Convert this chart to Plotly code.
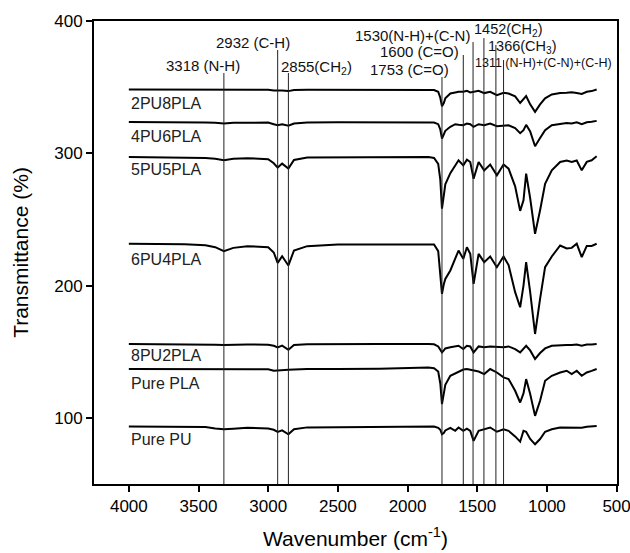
import plotly.graph_objects as go

# Wavenumber grid (cm-1) shared by all spectra
wavenumber = [4000, 3600, 3450, 3380, 3318, 3250, 3150, 3000, 2960, 2932, 2900, 2855, 2815,
              2720, 2500, 2200, 1850, 1810, 1780, 1765, 1753, 1740, 1729, 1693, 1658, 1634,
              1600, 1574, 1550, 1526, 1490, 1450, 1407, 1359, 1311, 1275, 1228, 1192, 1168,
              1149, 1120, 1085, 1049, 1013, 965, 905, 858, 822, 786, 750, 714, 679, 643]

t_2pu8pla = [348.3, 348.3, 348.2, 348.0, 347.8, 348.0, 348.0, 348.0, 347.5, 347.2, 347.4, 347.0, 347.8,
             348.0, 348.0, 348.0, 348.0, 347.8, 346.5, 342.0, 335.5, 338.0, 341.5, 345.2, 346.0, 346.5,
             346.5, 347.2, 346.0, 346.5, 347.2, 345.5, 346.5, 343.9, 345.8, 345.2, 343.0, 338.0, 341.0,
             343.2, 337.0, 331.3, 337.0, 341.5, 344.5, 345.5, 345.7, 346.2, 345.5, 344.8, 346.5, 347.0, 348.2]

t_4pu6pla = [323.7, 323.7, 323.2, 323.0, 322.5, 323.0, 323.2, 323.2, 322.0, 321.2, 322.0, 320.8, 322.5,
             323.3, 323.5, 323.5, 323.5, 323.2, 322.0, 318.0, 311.1, 314.0, 317.0, 320.0, 322.0, 321.5,
             321.2, 322.5, 322.0, 320.0, 322.0, 321.2, 322.5, 320.5, 321.2, 321.2, 319.0, 315.2, 317.5,
             321.5, 316.5, 305.3, 311.5, 317.4, 321.2, 322.0, 322.8, 322.5, 323.5, 322.0, 323.5, 323.8, 324.5]

t_5pu5pla = [297.2, 297.0, 296.5, 295.8, 294.7, 295.8, 296.3, 295.5, 292.5, 289.2, 292.2, 288.4, 295.0,
             296.8, 297.0, 297.2, 297.2, 296.5, 292.0, 280.0, 258.1, 268.0, 276.5, 285.0, 291.0, 294.7,
             290.9, 295.2, 293.4, 280.8, 293.4, 287.1, 291.5, 283.3, 291.5, 288.4, 275.0, 256.5, 264.4,
             284.6, 266.0, 239.1, 257.0, 277.0, 287.1, 293.4, 294.5, 293.4, 294.5, 287.1, 293.5, 294.7, 297.7]

t_6pu4pla = [231.6, 231.3, 230.5, 229.0, 226.0, 228.5, 229.8, 229.0, 225.0, 217.2, 222.2, 215.2, 226.5,
             229.8, 231.0, 231.0, 231.5, 231.0, 226.0, 210.0, 193.7, 201.0, 205.0, 211.4, 220.0, 226.5,
             220.2, 229.0, 224.0, 201.3, 224.0, 217.7, 222.0, 213.9, 222.0, 215.5, 195.0, 183.6, 200.0,
             217.7, 195.0, 163.4, 190.0, 213.9, 222.0, 230.3, 228.0, 228.5, 231.6, 221.5, 230.0, 230.0, 231.6]

t_8pu2pla = [155.8, 155.8, 155.6, 155.3, 155.0, 155.3, 155.5, 155.3, 154.5, 153.3, 154.6, 151.5, 155.0,
             155.6, 155.8, 155.8, 155.8, 155.6, 154.0, 151.5, 149.5, 151.0, 152.5, 153.3, 154.0, 154.5,
             152.0, 154.5, 154.0, 149.5, 154.0, 153.3, 154.0, 153.5, 153.3, 154.0, 152.0, 149.5, 152.0,
             154.5, 151.0, 144.5, 149.0, 152.5, 154.5, 155.0, 155.0, 155.0, 155.5, 154.5, 155.5, 155.5, 155.8]

t_pure_pla = [136.9, 136.9, 136.8, 136.6, 136.6, 136.8, 136.8, 136.7, 135.7, 136.0, 136.2, 136.3, 136.5,
              136.9, 137.0, 137.2, 138.0, 137.5, 135.0, 126.0, 110.4, 118.0, 125.0, 131.8, 133.5, 134.3,
              136.5, 136.9, 136.5, 136.1, 135.0, 133.1, 136.9, 134.3, 130.6, 129.3, 120.5, 111.6, 118.5,
              129.3, 118.0, 101.5, 112.9, 128.0, 131.8, 134.3, 135.6, 133.1, 135.6, 131.8, 134.3, 135.5, 136.9]

t_pure_pu = [93.4, 93.3, 93.0, 92.0, 91.4, 91.8, 92.5, 92.0, 91.0, 89.4, 90.5, 87.6, 91.4,
             92.8, 93.0, 93.3, 93.7, 93.5, 92.5, 91.0, 87.6, 88.5, 90.5, 92.5, 90.2, 92.7,
             90.2, 91.8, 90.2, 82.6, 90.2, 91.4, 92.7, 89.5, 91.4, 90.2, 86.0, 82.0, 90.2,
             89.5, 84.0, 80.0, 84.0, 89.5, 91.4, 92.7, 92.7, 92.7, 92.8, 92.5, 93.2, 93.5, 93.9]

series_names = ["2PU8PLA", "4PU6PLA", "5PU5PLA", "6PU4PLA", "8PU2PLA", "Pure PLA", "Pure PU"]
series_values = [t_2pu8pla, t_4pu6pla, t_5pu5pla, t_6pu4pla, t_8pu2pla, t_pure_pla, t_pure_pu]
label_y = [337.8, 312.6, 287.4, 219.4, 147.0, 126.2, 83.3]

# Band assignment reference lines
band_positions = [3318, 2932, 2855, 1753, 1600, 1530, 1452, 1366, 1311]
band_tops = [360.7, 378.1, 360.7, 357.7, 374.3, 384.1, 387.1, 381.9, 370.5]

band_labels = ["3318 (N-H)", "2932 (C-H)", "2855(CH<sub>2</sub>)", "1753 (C=O)", "1600 (C=O)",
               "1530(N-H)+(C-N)", "1452(CH<sub>2</sub>)", "1366(CH<sub>3</sub>)",
               "1311 (N-H)+(C-N)+(C-H)"]
band_label_x = [3469, 3110, 2655, 1989, 1913, 1963, 1275, 1172, 1028]
band_label_y = [366.7, 383.4, 365.2, 363.0, 376.6, 389.4, 393.0, 380.2, 368.6]
band_label_size = [15, 15, 15, 15, 15, 15, 14.5, 14.5, 12.5]

x_ticks = [4000, 3500, 3000, 2500, 2000, 1500, 1000, 500]
y_ticks = [100, 200, 300, 400]

FONT = "Liberation Sans, Arial, sans-serif"

fig = go.Figure()

for name, vals in zip(series_names, series_values):
    assert len(vals) == len(wavenumber)
    fig.add_trace(go.Scatter(x=wavenumber, y=vals, mode="lines", name=name,
                             line=dict(color="black", width=2), showlegend=False))

for xb, yt in zip(band_positions, band_tops):
    fig.add_shape(type="line", xref="x", yref="y", x0=xb, x1=xb, y0=50, y1=yt,
                  line=dict(color="#222222", width=1))

for txt, xa, ya, fs in zip(band_labels, band_label_x, band_label_y, band_label_size):
    fig.add_annotation(x=xa, y=ya, text=txt, showarrow=False, xref="x", yref="y",
                       font=dict(family=FONT, size=fs, color="#111111"),
                       xanchor="center", yanchor="middle", borderpad=0)

for name, ly in zip(series_names, label_y):
    fig.add_annotation(x=4000, y=ly, text=name, showarrow=False, xref="x", yref="y",
                       font=dict(family=FONT, size=16, color="#222222"),
                       xanchor="left", yanchor="middle")

fig.update_layout(
    width=630, height=553,
    margin=dict(l=94, r=13, t=21, b=69),
    paper_bgcolor="white", plot_bgcolor="white",
    font=dict(family=FONT, color="black"),
)
fig.update_xaxes(range=[4250, 497], tickvals=x_ticks, ticktext=[str(v) for v in x_ticks],
                 automargin=False, ticklabeloverflow="allow",
                 showgrid=False, zeroline=False, showline=True, mirror=True,
                 linecolor="black", linewidth=2, ticks="outside", ticklen=6, tickwidth=1.5,
                 tickcolor="black", tickfont=dict(size=17),
                 title=dict(text="Wavenumber (cm<sup>-1</sup>)", font=dict(size=21), standoff=16))
fig.update_yaxes(range=[50, 400], tickvals=y_ticks, ticktext=[str(v) for v in y_ticks],
                 automargin=False,
                 showgrid=False, zeroline=False, showline=True, mirror=True,
                 linecolor="black", linewidth=2, ticks="outside", ticklen=6, tickwidth=1.5,
                 tickcolor="black", tickfont=dict(size=17),
                 title=dict(text="Transmittance (%)", font=dict(size=21), standoff=20))

fig.write_html("out.html")
